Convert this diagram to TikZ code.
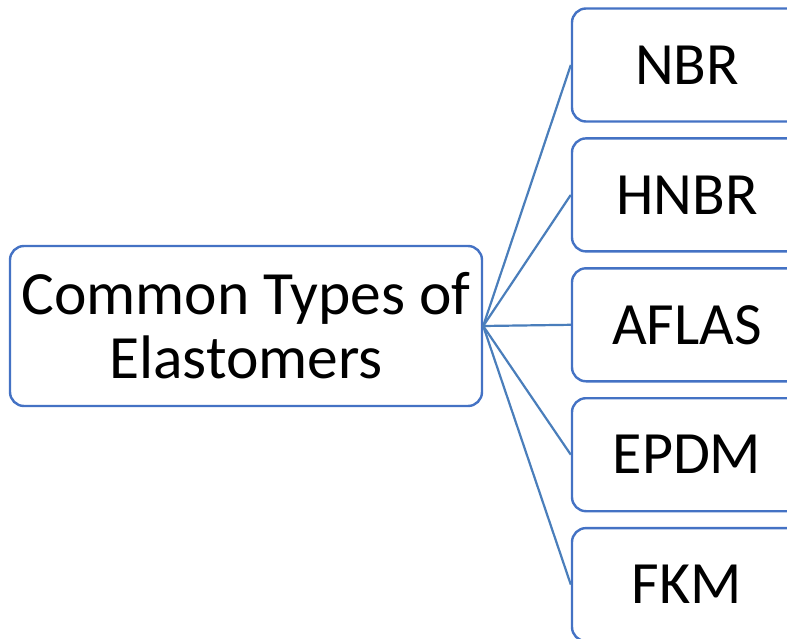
\documentclass[tikz,border=0pt]{standalone}
\usepackage{fontspec}
\setmainfont{Carlito}
\usetikzlibrary{positioning}

\definecolor{boxblue}{RGB}{68,114,196}
\definecolor{lineblue}{RGB}{74,126,187}

\begin{document}
\begin{tikzpicture}[x=1pt,y=-1pt,
  box/.style={draw=boxblue,line width=2.4pt,rounded corners=14pt,fill=white,align=center,
    font=\fontsize{60}{64}\selectfont},
  kind/.style={box,minimum width=230pt,minimum height=113pt},
  link/.style={draw=lineblue,line width=2.2pt}]
\clip (0,0) rectangle (787,639);
\node[box,minimum width=472pt,minimum height=160pt,font=\fontsize{61.5}{64}\selectfont] (root) at (246,326) {Common Types of\\Elastomers};
\node[kind] (n1) at (687,65) {NBR};
\node[kind] (n2) [below=14.5pt of n1] {HNBR};
\node[kind] (n3) [below=14.5pt of n2] {AFLAS};
\node[kind] (n4) [below=14.5pt of n3] {EPDM};
\node[kind] (n5) [below=14.5pt of n4] {FKM};

\path[link] (root.east) -- (n1.west);
\path[link] (root.east) -- (n2.west);
\path[link] (root.east) -- (n3.west);
\path[link] (root.east) -- (n4.west);
\path[link] (root.east) -- (n5.west);
\end{tikzpicture}
\end{document}
